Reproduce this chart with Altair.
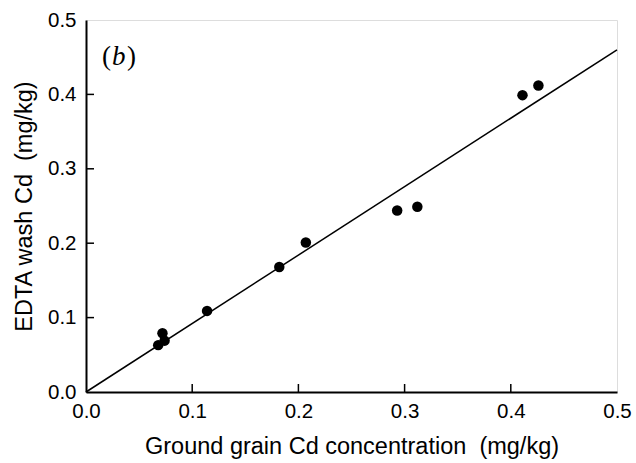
import altair as alt
import pandas as pd

# data
ground_cd = [0.068, 0.072, 0.074, 0.114, 0.182, 0.207, 0.293, 0.312, 0.411, 0.426]
edta_cd = [0.063, 0.079, 0.069, 0.109, 0.168, 0.201, 0.244, 0.249, 0.399, 0.412]
fit_x = [0.0, 0.5]
fit_y = [0.0, 0.46]
tick_vals = [0.1, 0.2, 0.3, 0.4]
label_vals = [0.0, 0.1, 0.2, 0.3, 0.4, 0.5]

pts = pd.DataFrame({"x": ground_cd, "y": edta_cd})
fit = pd.DataFrame({"x": fit_x, "y": fit_y})
ticks = pd.DataFrame({"v": tick_vals})

W, H = 531, 372
FONT = "Liberation Sans"

xs = alt.Scale(domain=[0, 0.5], nice=False, zero=False)
ys = alt.Scale(domain=[0, 0.5], nice=False, zero=False)

xaxis = alt.Axis(values=label_vals, format=".1f", tickSize=0, labelPadding=9,
                 labelFlush=False, domainWidth=2, domainColor="black", grid=False,
                 labelFont=FONT, labelFontSize=20.5, labelColor="black",
                 titleFont=FONT, titleFontSize=23.5, titleFontWeight="normal",
                 titleColor="black", titlePadding=13)
yaxis = alt.Axis(values=label_vals, format=".1f", tickSize=0, labelPadding=10,
                 labelFlush=False, domainWidth=2, domainColor="black", grid=False,
                 labelFont=FONT, labelFontSize=20.5, labelColor="black",
                 titleFont=FONT, titleFontSize=23.5, titleFontWeight="normal",
                 titleColor="black", titlePadding=11)

points = alt.Chart(pts).mark_circle(size=110, color="black", opacity=1).encode(
    x=alt.X("x:Q", scale=xs, axis=xaxis,
            title="Ground grain Cd concentration\u00a0 (mg/kg)"),
    y=alt.Y("y:Q", scale=ys, axis=yaxis, title="EDTA wash Cd\u00a0 (mg/kg)"),
)

line = alt.Chart(fit).mark_line(color="black", strokeWidth=1.5).encode(
    x=alt.X("x:Q", scale=xs), y=alt.Y("y:Q", scale=ys)
)

xt = alt.Chart(ticks).mark_rule(color="black", strokeWidth=1.5).encode(
    x=alt.X("v:Q", scale=xs), y=alt.value(H), y2=alt.value(H - 8)
)
yt = alt.Chart(ticks).mark_rule(color="black", strokeWidth=1.5).encode(
    y=alt.Y("v:Q", scale=ys), x=alt.value(0), x2=alt.value(8)
)

paren_l = alt.Chart(pd.DataFrame({"t": ["("]})).mark_text(
    font="Liberation Serif", fontSize=27, align="left", baseline="middle", color="black"
).encode(x=alt.value(16), y=alt.value(37), text="t:N")
letter_b = alt.Chart(pd.DataFrame({"t": ["b"]})).mark_text(
    font="Liberation Serif", fontSize=27, fontStyle="italic", align="left",
    baseline="middle", color="black"
).encode(x=alt.value(26), y=alt.value(37), text="t:N")
paren_r = alt.Chart(pd.DataFrame({"t": [")"]})).mark_text(
    font="Liberation Serif", fontSize=27, align="left", baseline="middle", color="black"
).encode(x=alt.value(41), y=alt.value(37), text="t:N")

chart = alt.layer(line, points, xt, yt, paren_l, letter_b, paren_r).properties(
    width=W, height=H,
    autosize=alt.AutoSizeParams(type="none"),
    padding={"left": 86, "top": 20, "right": 19, "bottom": 71},
).configure_view(stroke="black", strokeWidth=1.5).configure(background="white")

chart.save("out.html", embed_options={"renderer": "svg", "actions": False})
